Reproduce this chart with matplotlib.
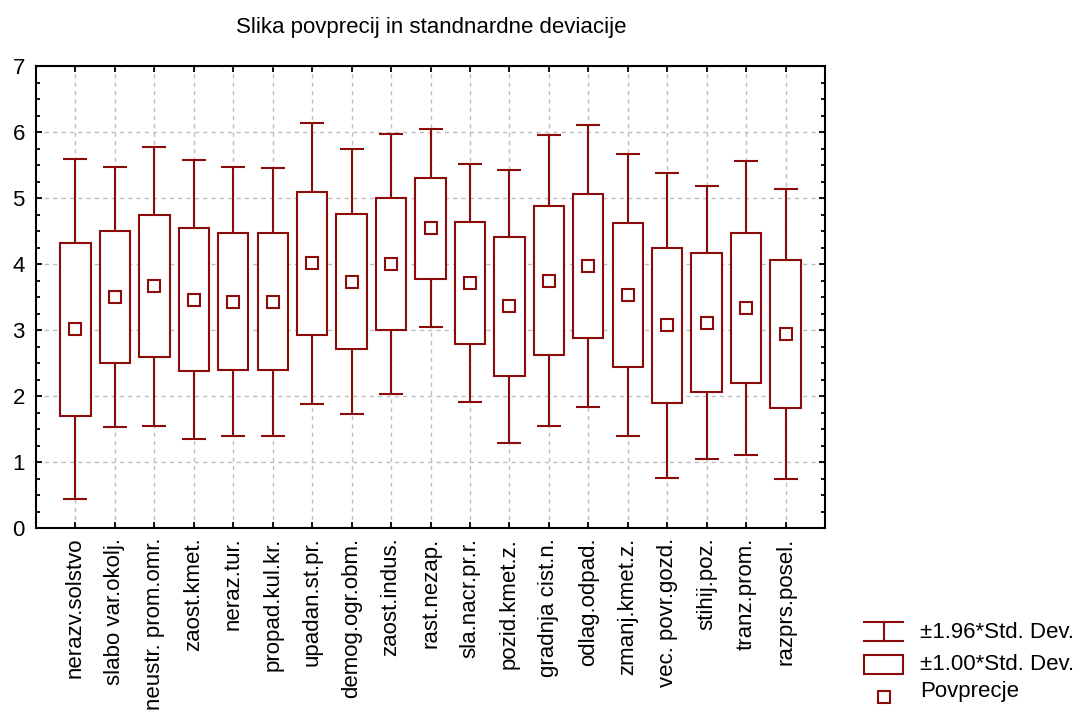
import matplotlib
matplotlib.use("Agg")
import matplotlib.pyplot as plt
import numpy as np

plt.rcParams['font.family'] = ['Liberation Sans', 'DejaVu Sans']

categories = ["nerazv.solstvo", "slabo var.okolj.", "neustr. prom.omr.", "zaost.kmet.",
              "neraz.tur.", "propad.kul.kr.", "upadan.st.pr.", "demog.ogr.obm.",
              "zaost.indus.", "rast.nezap.", "sla.nacr.pr.r.", "pozid.kmet.z.",
              "gradnja cist.n.", "odlag.odpad.", "zmanj.kmet.z.", "vec. povr.gozd.",
              "stihij.poz.", "tranz.prom.", "razprs.posel."]
means = [3.01, 3.50, 3.66, 3.46, 3.43, 3.43, 4.01, 3.73, 4.00, 4.54,
         3.71, 3.36, 3.75, 3.97, 3.53, 3.07, 3.11, 3.33, 2.94]
sds = [1.315, 1.005, 1.075, 1.08, 1.04, 1.035, 1.086, 1.025, 1.005, 0.765,
       0.92, 1.055, 1.125, 1.09, 1.09, 1.18, 1.055, 1.135, 1.12]
title = "Slika povprecij in standnardne deviacije"
legend_labels = ["±1.96*Std. Dev.", "±1.00*Std. Dev.", "Povprecje"]

color = '#8b0a0a'
W, H = 1078, 711
fig = plt.figure(figsize=(W / 100, H / 100), dpi=100)
ax = fig.add_axes([36 / W, 1 - 528 / H, (825 - 36) / W, (528 - 66) / H])

x = np.arange(1, len(categories) + 1)
m = np.array(means)
s = np.array(sds)

ax.errorbar(x, m, yerr=1.96 * s, fmt='none', ecolor=color, elinewidth=1.5,
            capsize=8.5, capthick=1.5, zorder=2)
ax.bar(x, 2 * s, bottom=m - s, width=0.77, facecolor='white', edgecolor=color,
       linewidth=1.5, zorder=3)
ax.plot(x, m, 's', ms=8.5, mfc='white', mec=color, mew=1.5, zorder=4)

ax.set_xlim(0, len(categories) + 1)
ax.set_ylim(0, 7)
ax.set_xticks(x)
ax.set_xticklabels(categories, rotation=90, fontsize=16, va='top', ha='center')
ax.set_yticks(range(0, 8))
ax.set_yticks(np.arange(0, 7.01, 0.25), minor=True)
ax.tick_params(axis='y', which='major', labelsize=16, direction='in', length=4,
               width=1.3, left=True, right=True, pad=8)
ax.tick_params(axis='y', which='minor', direction='in', length=3, width=1.3,
               left=True, right=True)
ax.tick_params(axis='x', which='major', direction='in', length=4, width=1.3,
               top=True, bottom=True, pad=7)
for sp in ax.spines.values():
    sp.set_linewidth(1.5)
    sp.set_color('black')

ax.grid(True, which='major', linestyle=(0, (3, 3)), color='#bdbdbd', linewidth=1.0, zorder=0)
ax.set_axisbelow(True)

fig.text(431 / W, 1 - 27 / H, title, ha='center', va='center', fontsize=16)

# legend drawn in pixel-coordinate overlay
lax = fig.add_axes([0, 0, 1, 1])
lax.set_xlim(0, W)
lax.set_ylim(H, 0)
lax.axis('off')
x0, x1 = 864, 903
xc = (x0 + x1) / 2
lax.plot([x0, x1], [622, 622], color=color, lw=1.5)
lax.plot([x0, x1], [641, 641], color=color, lw=1.5)
lax.plot([xc, xc], [622, 641], color=color, lw=1.5)
lax.add_patch(plt.Rectangle((x0, 655), x1 - x0, 19, facecolor='white', edgecolor=color, lw=1.5))
lax.plot([xc], [697], 's', ms=8.5, mfc='white', mec=color, mew=1.5)
for yy, lab in zip([632, 664, 691], legend_labels):
    lax.text(920, yy, lab, ha='left', va='center', fontsize=16)

fig.savefig('out.png', dpi=100)
